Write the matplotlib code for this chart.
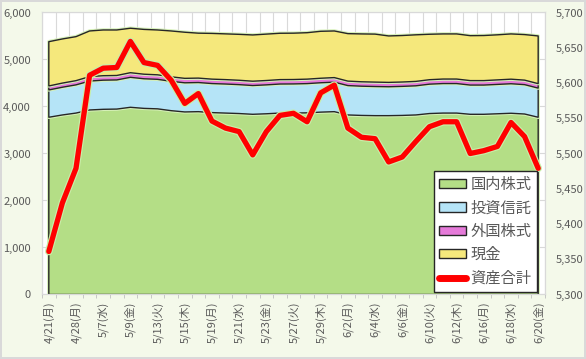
import numpy as np
import matplotlib
matplotlib.use("Agg")
from matplotlib import pyplot as plt
from matplotlib import patheffects as pe
from matplotlib.patches import Patch
from matplotlib.lines import Line2D

plt.rcParams['font.family'] = ['Noto Sans CJK JP', 'DejaVu Sans']

dates = ["4/21(月)", "4/25(金)", "4/28(月)", "5/2(金)", "5/7(水)", "5/8(木)", "5/9(金)",
         "5/12(月)", "5/13(火)", "5/14(水)", "5/15(木)", "5/16(金)", "5/19(月)", "5/20(火)",
         "5/21(水)", "5/22(木)", "5/23(金)", "5/26(月)", "5/27(火)", "5/28(水)", "5/29(木)",
         "5/30(金)", "6/2(月)", "6/3(火)", "6/4(水)", "6/5(木)", "6/6(金)", "6/9(月)",
         "6/10(火)", "6/11(水)", "6/12(木)", "6/13(金)", "6/16(月)", "6/17(火)", "6/18(水)",
         "6/19(木)", "6/20(金)"]

domestic = [3771, 3820, 3860, 3926, 3940, 3945, 3983, 3960, 3950, 3911, 3884, 3890, 3870,
            3860, 3850, 3834, 3845, 3860, 3860, 3865, 3880, 3890, 3820, 3810, 3805, 3805,
            3810, 3820, 3850, 3860, 3860, 3834, 3834, 3845, 3856, 3840, 3771]
fund = [581, 590, 600, 615, 620, 620, 638, 630, 628, 625, 620, 620, 618, 618, 615, 612,
        615, 618, 620, 622, 625, 628, 625, 622, 620, 615, 618, 620, 625, 628, 628, 622,
        622, 625, 628, 625, 620]
foreign = [85, 88, 90, 95, 95, 95, 98, 97, 96, 95, 95, 94, 94, 94, 93, 92, 93, 94, 94, 95,
           96, 97, 95, 94, 94, 93, 93, 94, 95, 96, 96, 95, 95, 96, 97, 96, 95]
cash = [942, 939, 936, 971, 973, 968, 946, 953, 954, 976, 981, 956, 973, 973, 977, 984,
        987, 986, 986, 988, 999, 992, 1010, 1018, 1021, 988, 989, 991, 967, 960, 960, 956,
        959, 959, 963, 969, 1015]
total = [5361, 5430, 5479, 5611, 5621, 5622, 5659, 5629, 5625, 5604, 5571, 5585, 5546,
         5536, 5531, 5498, 5531, 5554, 5557, 5545, 5586, 5597, 5536, 5523, 5521, 5488,
         5495, 5517, 5538, 5545, 5545, 5500, 5504, 5510, 5544, 5524, 5479]

labels = ["国内株式", "投資信託", "外国株式", "現金", "資産合計"]
colors = ["#B4DE86", "#B5E4F7", "#E57AD9", "#F5E87C"]
gray = "#595959"

x = np.arange(len(dates))

fig = plt.figure(figsize=(5.86, 3.59), dpi=100)
fig.patch.set_facecolor("#F4F9EA")
fig.patch.set_edgecolor("#D9D9D9")
fig.patch.set_linewidth(1.5)

ax = fig.add_axes([0.0717, 0.1797, 0.8583, 0.7855])
ax.set_facecolor("white")
polys = ax.stackplot(x, domestic, fund, foreign, cash, colors=colors,
                     edgecolor="#262626", linewidth=1.0, zorder=3)
for p in polys:
    p.set_path_effects([pe.Stroke(linewidth=2.5, foreground="#D6F0B8"), pe.Normal()])

ax.set_xlim(-0.5, len(dates) - 0.5)
ax.set_ylim(0, 6000)
ax.set_yticks(range(0, 6001, 1000))
ax.set_yticklabels([f"{v:,}" for v in range(0, 6001, 1000)])
ax.set_xticks(x[::2])
ax.set_xticklabels(dates[::2], rotation=90)
ax.set_xticks(np.arange(-0.5, len(dates), 1), minor=True)
ax.grid(axis="y", color="#D9D9D9", linewidth=0.8, zorder=0)
ax.grid(axis="x", which="minor", color="#D9D9D9", linewidth=0.8, zorder=0)
ax.set_axisbelow(True)
ax.tick_params(axis="y", length=0, pad=8, labelsize=8, labelcolor=gray)
ax.tick_params(axis="x", which="major", length=0, pad=5, labelsize=8, labelcolor=gray)
ax.tick_params(axis="x", which="minor", length=3, color="#BFBFBF")
for s in ax.spines.values():
    s.set_color("#D9D9D9")

ax2 = ax.twinx()
ax2.plot(x, total, color="#FF0000", linewidth=3.8, solid_joinstyle="round",
         solid_capstyle="round", zorder=5,
         path_effects=[pe.Stroke(linewidth=5.5, foreground="#C8EFA8"), pe.Normal()])
ax2.set_ylim(5300, 5700)
ax2.set_yticks(range(5300, 5701, 50))
ax2.set_yticklabels([f"{v:,}" for v in range(5300, 5701, 50)])
ax2.tick_params(axis="y", length=0, pad=8, labelsize=8, labelcolor=gray)
for s in ax2.spines.values():
    s.set_color("#D9D9D9")

handles = [Patch(facecolor=c, edgecolor="#262626", linewidth=1.0) for c in colors]
handles.append(Line2D([0], [0], color="#FF0000", linewidth=5, solid_capstyle="round"))
leg = ax2.legend(handles, labels, loc="lower right", bbox_to_anchor=(0.984, 0.009),
                 fontsize=11, labelcolor=gray, frameon=True, fancybox=False,
                 edgecolor="#262626", framealpha=1, borderpad=0.35, labelspacing=0.42,
                 handlelength=1.75, handleheight=0.55, handletextpad=0.3,
                 borderaxespad=0)
leg.get_frame().set_linewidth(1.0)

fig.savefig("out.png", dpi=100, facecolor=fig.get_facecolor(), edgecolor=fig.get_edgecolor())
